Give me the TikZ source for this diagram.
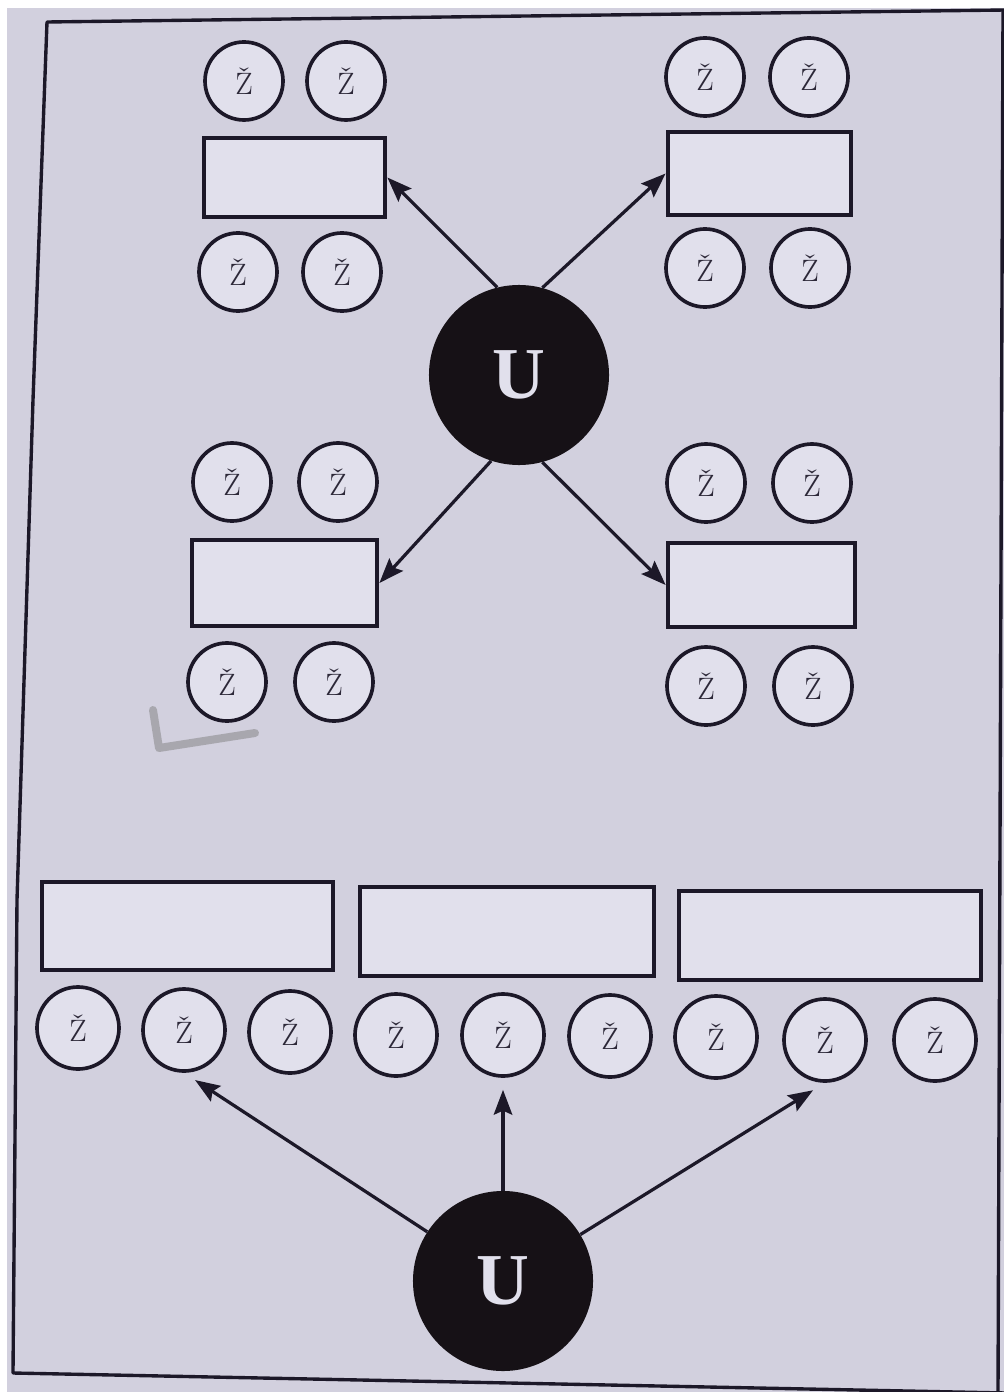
\documentclass[tikz,border=0pt]{standalone}
\usepackage{fontspec}
\newfontfamily\ufont{Liberation Serif}
\usetikzlibrary{arrows.meta}
\definecolor{paper}{RGB}{210,208,222}
\definecolor{boxfill}{RGB}{225,224,236}
\definecolor{ink}{RGB}{28,24,40}
\definecolor{blob}{RGB}{22,17,22}
\definecolor{zink}{RGB}{44,40,56}
\begin{document}
\begin{tikzpicture}[x=0.025cm,y=-0.025cm,
  zc/.style={circle, draw=ink, line width=2.6pt, fill=boxfill, minimum size=1.95cm, inner sep=0pt,
    font=\fontsize{22}{22}\selectfont, text=zink},
  zb/.style={zc, minimum size=2.05cm},
  box/.style={rectangle, draw=ink, line width=3.2pt, fill=boxfill, inner sep=0pt},
  ublob/.style={circle, fill=blob, minimum size=4.5cm, inner sep=0pt,
    font=\ufont\bfseries\fontsize{52}{52}\selectfont, text=boxfill},
  arr/.style={-{Stealth[length=0.62cm,width=0.46cm,inset=0.1cm]}, line width=2.3pt, draw=ink},
  frame/.style={draw=ink, line width=2.4pt, line join=round}
]
\useasboundingbox (0,0) rectangle (1004,1392);
\fill[white] (0,0) rectangle (1004,1392);
\fill[paper] (7,8) rectangle (1004,1392);
% frame
\draw[frame] (1006,10) -- (47,22) -- (33,400) -- (17,900) -- (13,1373) -- (1006,1393);
\draw[frame] (1003,10) -- (998,1392);
% pencil mark
\draw[line width=0.2cm, color=gray, opacity=0.5, line cap=round, line join=round]
  (153,710) -- (159,748) -- (255,733);

% top-left group
\node[zc] (tl1) at (244,81) {Ž};
\node[zc] (tl2) at (346,81) {Ž};
\node[box, minimum width=4.53cm, minimum height=1.98cm] (tlr) at (294.5,177.5) {};
\node[zc] (tl3) at (238,272) {Ž};
\node[zc] (tl4) at (342,272) {Ž};
% top-right group
\node[zc] (tr1) at (705,77) {Ž};
\node[zc] (tr2) at (809,77) {Ž};
\node[box, minimum width=4.58cm, minimum height=2.08cm] (trr) at (759.5,173.5) {};
\node[zc] (tr3) at (705,268) {Ž};
\node[zc] (tr4) at (810,268) {Ž};
% middle-left group
\node[zc] (ml1) at (232,482) {Ž};
\node[zc] (ml2) at (338,482) {Ž};
\node[box, minimum width=4.63cm, minimum height=2.15cm] (mlr) at (284.5,583) {};
\node[zc] (ml3) at (227,682) {Ž};
\node[zc] (ml4) at (334,682) {Ž};
% middle-right group
\node[zc] (mr1) at (706,483) {Ž};
\node[zc] (mr2) at (812,483) {Ž};
\node[box, minimum width=4.68cm, minimum height=2.1cm] (mrr) at (761.5,585) {};
\node[zc] (mr3) at (706,686) {Ž};
\node[zc] (mr4) at (813,686) {Ž};
% upper U
\node[ublob] (U1) at (519,375) {U};
\draw[arr] (U1.104) -- (tlr.east);
\draw[arr] (U1.75) -- (trr.west);
\draw[arr] (U1.252) -- (mlr.east);
\draw[arr] (U1.285) -- (mrr.west);

% bottom boxes
\node[box, minimum width=7.28cm, minimum height=2.2cm] (bb1) at (187.5,926) {};
\node[box, minimum width=7.35cm, minimum height=2.23cm] (bb2) at (507,931.5) {};
\node[box, minimum width=7.55cm, minimum height=2.23cm] (bb3) at (830,935.5) {};
% bottom circles
\node[zb] (z1) at (78,1028) {Ž};
\node[zb] (z2) at (184,1030) {Ž};
\node[zb] (z3) at (290,1032) {Ž};
\node[zb] (z4) at (396,1035) {Ž};
\node[zb] (z5) at (503,1035) {Ž};
\node[zb] (z6) at (610,1036) {Ž};
\node[zb] (z7) at (716,1037) {Ž};
\node[zb] (z8) at (825,1040) {Ž};
\node[zb] (z9) at (935,1040) {Ž};
% lower U
\node[ublob] (U2) at (503,1281) {U};
\coordinate (vt) at (U2.north |- z5.south);
\draw[arr, shorten >=0.33cm] (U2.147) -- (z2.south);
\draw[arr, shorten >=0.3cm] (U2.north) -- (vt);
\draw[arr, shorten >=0.35cm] (U2.31) -- (z8.south);
\end{tikzpicture}
\end{document}
